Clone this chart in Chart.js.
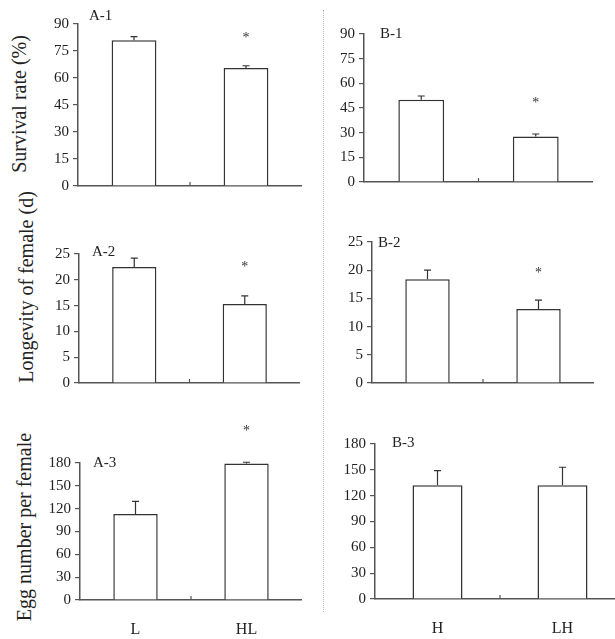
<!DOCTYPE html>
<html><head><meta charset="utf-8">
<script src="https://cdn.jsdelivr.net/npm/chart.js@4.4.1/dist/chart.umd.min.js"></script>
<style>
html,body{margin:0;padding:0;width:615px;height:639px;overflow:hidden;background:#fff;}
body{position:relative;}
canvas{position:absolute;}
.yt{position:absolute;font-family:'Liberation Serif',serif;font-size:20px;color:#222;white-space:nowrap;transform:translate(-50%,-50%) rotate(-90deg);}
.sep{position:absolute;left:323px;top:10px;height:602px;border-left:1px dotted #bbb;}
</style></head><body>
<div class="sep"></div>
<div class="yt" style="left:19px;top:104px;">Survival rate (%)</div>
<div class="yt" style="left:26px;top:287px;">Longevity of female (d)</div>
<div class="yt" style="left:24px;top:527px;">Egg number per female</div>
<script>
// ---- data ----
const categoriesA = ['L', 'HL'];
const categoriesB = ['H', 'LH'];

const survivalA = [81, 65.5];
const survivalAErr = [2, 1.3];
const survivalAStar = [null, 84];

const survivalB = [50, 27.6];
const survivalBErr = [2.3, 1.6];
const survivalBStar = [null, 50];

const longevityA = [22.5, 15.3];
const longevityAErr = [1.7, 1.6];
const longevityAStar = [null, 23];

const longevityB = [18.4, 13.1];
const longevityBErr = [1.6, 1.6];
const longevityBStar = [null, 20];

const eggA = [113, 179.5];
const eggAErr = [16.5, 1.5];
const eggAStar = [null, 226];

const eggB = [132, 132];
const eggBErr = [17, 21];
const eggBStar = [null, null];

const survivalTicks = {max: 90, step: 15};
const longevityTicks = {max: 25, step: 5};
const eggTicks = {max: 180, step: 30};

// ---- rendering ----
const SERIF = "'Liberation Serif', 'Times New Roman', serif";
const AX = '#555';
const EDGE = '#333';

function makePanel(p) {
  const padTop = 40, yW = 45, xH = 40;
  const left = p.x0 - yW, top = p.top - padTop;
  const w = p.x1 - left, h = p.bottom + xH - top;
  const c = document.createElement('canvas');
  c.width = w; c.height = h;
  c.style.left = left + 'px'; c.style.top = top + 'px';
  c.style.width = w + 'px'; c.style.height = h + 'px';
  document.body.appendChild(c);

  const extras = {
    id: 'extras',
    afterDatasetsDraw(chart) {
      const ctx = chart.ctx, xs = chart.scales.x, ys = chart.scales.y;
      const meta = chart.getDatasetMeta(0), ca = chart.chartArea;
      ctx.save();
      ctx.strokeStyle = EDGE; ctx.lineWidth = 1.2;
      p.values.forEach((v, i) => {
        const bx = meta.data[i].x;
        const y0 = ys.getPixelForValue(v), y1 = ys.getPixelForValue(v + p.errs[i]);
        ctx.beginPath();
        ctx.moveTo(bx, y0); ctx.lineTo(bx, y1);
        ctx.moveTo(bx - 3.5, y1); ctx.lineTo(bx + 3.5, y1);
        ctx.stroke();
      });
      // category boundary tick (pointing up)
      const mid = (xs.getPixelForValue(0) + xs.getPixelForValue(1)) / 2;
      ctx.strokeStyle = AX; ctx.lineWidth = 1.2;
      ctx.beginPath(); ctx.moveTo(mid, ca.bottom); ctx.lineTo(mid, ca.bottom - 4); ctx.stroke();
      // significance stars
      ctx.fillStyle = '#333';
      ctx.font = '14px ' + SERIF;
      ctx.textAlign = 'center'; ctx.textBaseline = 'alphabetic';
      p.stars.forEach((s, i) => {
        if (s === null) return;
        ctx.fillText('*', meta.data[i].x, ys.getPixelForValue(s) + 7);
      });
      // panel label
      ctx.fillStyle = '#222';
      ctx.font = '15px ' + SERIF;
      ctx.textAlign = 'left'; ctx.textBaseline = 'middle';
      ctx.fillText(p.label, ca.left + p.ldx, ca.top + p.ldy);
      ctx.restore();
    }
  };

  new Chart(c, {
    type: 'bar',
    data: {
      labels: p.cats,
      datasets: [{
        data: p.values,
        backgroundColor: '#fff',
        borderColor: EDGE,
        borderWidth: 1.5,
        barPercentage: 0.4,
        categoryPercentage: 1
      }]
    },
    options: {
      responsive: false,
      animation: false,
      devicePixelRatio: 1,
      layout: {padding: {top: padTop, left: 0, right: 0, bottom: 0}},
      plugins: {legend: {display: false}, tooltip: {enabled: false}},
      scales: {
        x: {
          offset: true,
          grid: {display: false, drawTicks: false},
          border: {display: true, color: AX, width: 1.5},
          ticks: {display: p.showX, padding: 20, color: '#222', maxRotation: 0, font: {family: SERIF, size: 16}},
          afterFit(s) { s.height = xH; }
        },
        y: {
          min: 0, max: p.ticks.max,
          grid: {display: true, drawOnChartArea: false, drawTicks: true, tickLength: 5, color: AX, lineWidth: 1.2},
          border: {display: true, color: AX, width: 1.5},
          ticks: {stepSize: p.ticks.step, padding: 4, color: '#222', font: {family: SERIF, size: 15}},
          afterFit(s) { s.width = yW; }
        }
      }
    },
    plugins: [extras]
  });
}

makePanel({label: 'A-1', cats: categoriesA, values: survivalA, errs: survivalAErr, stars: survivalAStar, ticks: survivalTicks,
  x0: 78, x1: 302, top: 24, bottom: 186, showX: false, ldx: 11, ldy: -8});
makePanel({label: 'B-1', cats: categoriesB, values: survivalB, errs: survivalBErr, stars: survivalBStar, ticks: survivalTicks,
  x0: 364, x1: 593, top: 34, bottom: 182, showX: false, ldx: 16, ldy: 0});
makePanel({label: 'A-2', cats: categoriesA, values: longevityA, errs: longevityAErr, stars: longevityAStar, ticks: longevityTicks,
  x0: 79, x1: 300, top: 254, bottom: 383, showX: false, ldx: 13, ldy: -2});
makePanel({label: 'B-2', cats: categoriesB, values: longevityB, errs: longevityBErr, stars: longevityBStar, ticks: longevityTicks,
  x0: 372, x1: 594, top: 242, bottom: 383, showX: false, ldx: 6, ldy: 1});
makePanel({label: 'A-3', cats: categoriesA, values: eggA, errs: eggAErr, stars: eggAStar, ticks: eggTicks,
  x0: 80, x1: 302, top: 463, bottom: 600, showX: true, ldx: 13, ldy: 0});
makePanel({label: 'B-3', cats: categoriesB, values: eggB, errs: eggBErr, stars: eggBStar, ticks: eggTicks,
  x0: 375, x1: 625, top: 444, bottom: 599, showX: true, ldx: 17, ldy: -1});
</script>
</body></html>
